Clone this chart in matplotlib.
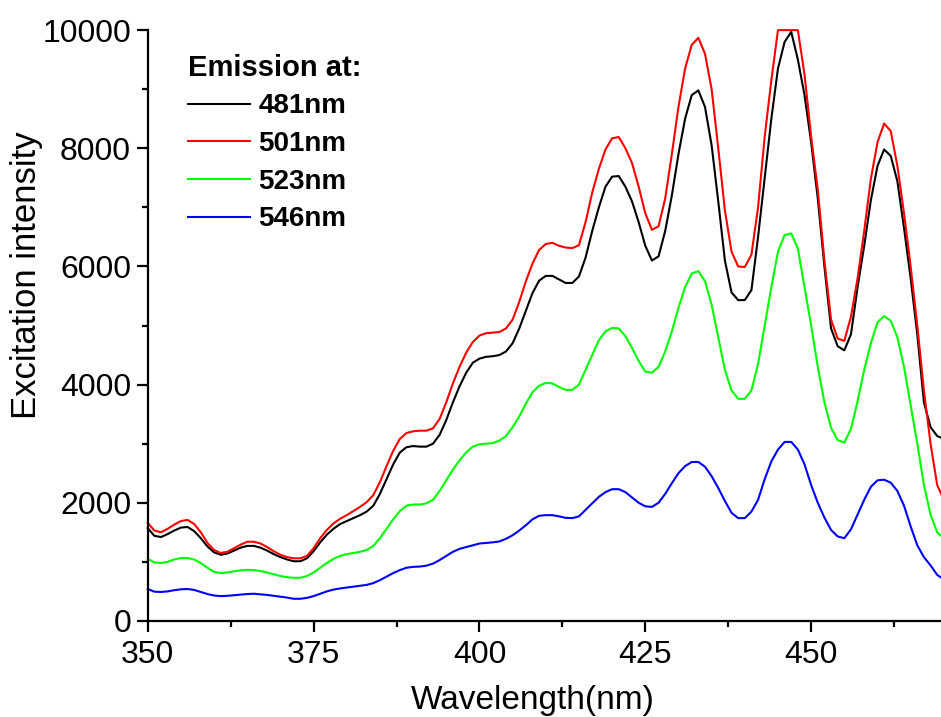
import numpy as np
import matplotlib
matplotlib.use("Agg")
import matplotlib.pyplot as plt
from matplotlib.ticker import MultipleLocator

plt.rcParams['font.family'] = ['Liberation Sans', 'DejaVu Sans']

# wavelength grid, 1 nm steps
wl = list(range(350, 471))

# excitation spectra
em481 = [1570, 1440, 1420, 1470, 1530, 1580, 1590, 1520, 1400, 1260,
         1160, 1120, 1140, 1190, 1240, 1270, 1270, 1240, 1190, 1130,
         1080, 1040, 1010, 1010, 1060, 1180, 1330, 1460, 1560, 1640,
         1690, 1740, 1790, 1850, 1950, 2150, 2400, 2650, 2850, 2940,
         2960, 2950, 2950, 3000, 3150, 3400, 3700, 3970, 4200, 4370,
         4440, 4470, 4480, 4500, 4560, 4700, 4950, 5250, 5550, 5760,
         5840, 5840, 5780, 5720, 5720, 5830, 6150, 6600, 7000, 7350,
         7520, 7530, 7350, 7100, 6750, 6350, 6100, 6170, 6600, 7200,
         7900, 8500, 8900, 8980, 8700, 8050, 7100, 6100, 5560, 5430,
         5430, 5600, 6500, 7500, 8500, 9350, 9800, 9970, 9500, 8900,
         8100, 7150, 6000, 4950, 4650, 4580, 4850, 5650, 6350, 7120,
         7700, 7980, 7870, 7440, 6650, 5800, 4850, 3700, 3280, 3130,
         3080]
em501 = [1660, 1530, 1500, 1560, 1630, 1690, 1710, 1640, 1500, 1320,
         1200, 1150, 1170, 1230, 1290, 1340, 1340, 1310, 1250, 1180,
         1120, 1080, 1060, 1060, 1100, 1230, 1400, 1540, 1650, 1730,
         1790, 1860, 1930, 2010, 2130, 2350, 2620, 2880, 3080, 3180,
         3210, 3220, 3220, 3260, 3420, 3700, 4020, 4300, 4540, 4720,
         4830, 4870, 4880, 4890, 4950, 5100, 5400, 5750, 6050, 6280,
         6380, 6400, 6350, 6320, 6310, 6360, 6750, 7250, 7650, 7980,
         8170, 8190, 8000, 7750, 7350, 6900, 6620, 6680, 7150, 7900,
         8700, 9350, 9750, 9870, 9600, 9000, 8000, 6950, 6250, 6000,
         5990, 6200, 7000, 8200, 9150, 10000, 10000, 10000, 10000, 9250,
         8200, 7300, 6100, 5100, 4780, 4740, 5150, 5800, 6600, 7480,
         8100, 8420, 8290, 7700, 6900, 6000, 5000, 3900, 3000, 2300,
         2050]
em523 = [1050, 990, 980, 1000, 1040, 1065, 1065, 1040, 980, 900,
         830, 810, 820, 840, 855, 865, 860, 845, 820, 790,
         760, 740, 730, 730, 760, 820, 900, 980, 1050, 1100,
         1130, 1150, 1170, 1200, 1270, 1400, 1560, 1720, 1860, 1950,
         1970, 1970, 1990, 2050, 2200, 2380, 2560, 2720, 2850, 2950,
         2990, 3000, 3010, 3050, 3130, 3280, 3460, 3680, 3870, 3980,
         4030, 4020, 3960, 3910, 3910, 4000, 4250, 4500, 4750, 4900,
         4960, 4950, 4820, 4620, 4400, 4220, 4200, 4300, 4560, 4900,
         5300, 5650, 5880, 5920, 5750, 5350, 4800, 4250, 3900, 3760,
         3760, 3900, 4350, 5000, 5650, 6250, 6530, 6560, 6300, 5650,
         5000, 4300, 3700, 3270, 3060, 3020, 3250, 3720, 4250, 4700,
         5050, 5160, 5080, 4800, 4300, 3650, 3000, 2300, 1800, 1500,
         1400]
em546 = [540, 495, 490, 500, 520, 535, 540, 525, 490, 455,
         430, 420, 425, 435, 445, 455, 460, 450, 440, 425,
         410, 395, 375, 375, 390, 420, 460, 500, 530, 550,
         565, 580, 595, 610, 640, 690, 750, 810, 860, 900,
         915, 920, 935, 970, 1030, 1100, 1170, 1220, 1250, 1280,
         1310, 1320, 1330, 1345, 1390, 1450, 1530, 1620, 1720, 1780,
         1790, 1790, 1770, 1745, 1740, 1770, 1880, 1990, 2100, 2180,
         2230, 2230, 2180, 2090, 2000, 1940, 1930, 2000, 2150, 2330,
         2500, 2620, 2690, 2690, 2610, 2450, 2250, 2030, 1830, 1740,
         1740, 1850, 2050, 2400, 2700, 2900, 3030, 3030, 2900, 2650,
         2300, 2000, 1750, 1540, 1430, 1400, 1550, 1800, 2050, 2270,
         2380, 2390, 2340, 2200, 1950, 1600, 1280, 1080, 940, 780,
         700]

labels = ['481nm', '501nm', '523nm', '546nm']
colors = ['black', 'red', '#00ff00', 'blue']

fig = plt.figure(figsize=(9.41, 7.17), dpi=100)
ax = fig.add_axes([0.157, 0.134, 0.846, 0.824])

for ys, lab, c in zip([em481, em501, em523, em546], labels, colors):
    ax.plot(wl, ys, color=c, lw=1.5, label=lab, clip_on=False)

ax.set_xlim(350, 470)
ax.set_ylim(0, 10000)
ax.xaxis.set_major_locator(MultipleLocator(25))
ax.xaxis.set_minor_locator(MultipleLocator(12.5))
ax.yaxis.set_major_locator(MultipleLocator(2000))
ax.yaxis.set_minor_locator(MultipleLocator(1000))

for s in ['top', 'right']:
    ax.spines[s].set_visible(False)
for s in ['left', 'bottom']:
    ax.spines[s].set_linewidth(1.6)

ax.tick_params(which='major', length=8, width=1.6, labelsize=23, pad=4)
ax.tick_params(axis='x', which='major', pad=6)
ax.tick_params(which='minor', length=4, width=1.6)

ax.set_xlabel('Wavelength(nm)', fontsize=24)
ax.set_ylabel('Excitation intensity', fontsize=25)
ax.xaxis.set_label_coords(0.484, -0.108)
ax.yaxis.set_label_coords(-0.132, 0.585)

leg = ax.legend(loc='upper left', bbox_to_anchor=(0.05, 0.96), frameon=False,
                title='Emission at:', alignment='left',
                prop={'size': 20, 'weight': 'bold'},
                title_fontproperties={'size': 21, 'weight': 'bold'},
                handlelength=2.25, handletextpad=0.3, labelspacing=0.42,
                borderpad=0, borderaxespad=0)

fig.savefig('out.png', dpi=100)
